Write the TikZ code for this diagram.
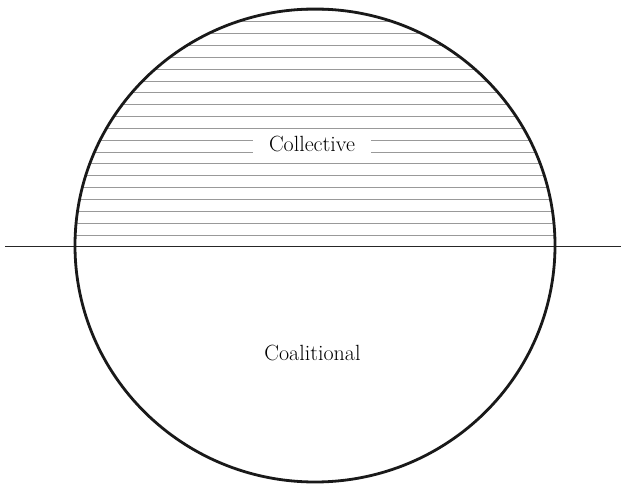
\documentclass[tikz,border=0pt]{standalone}
\begin{document}
\begin{tikzpicture}[x=1pt,y=-1pt,
  lbl/.style={font=\fontsize{22}{26}\selectfont, text=black},
  hatch/.style={draw=black!40, line width=0.7pt},
  rim/.style={draw=black!90, line width=2.8pt},
  axis/.style={draw=black!85, line width=1.3pt}]
\useasboundingbox (0,0) rectangle (621,486);
\begin{scope}
  \clip (315,245.5) ellipse [x radius=240, y radius=236.5];
  \foreach \k in {1,...,20} {
    \draw[hatch] (60,246.7-11.84*\k) -- (570,246.7-11.84*\k);
  }
\end{scope}
\node[lbl, fill=white, minimum width=118pt, minimum height=24pt, inner sep=0pt] (col) at (312,144) {Collective};
\node[lbl] (coa) at (312.5,353) {Coalitional};
\draw[axis] (5,246.7) -- (621,246.7);
\draw[rim] (315,245.5) ellipse [x radius=240, y radius=236.5];
\end{tikzpicture}
\end{document}
